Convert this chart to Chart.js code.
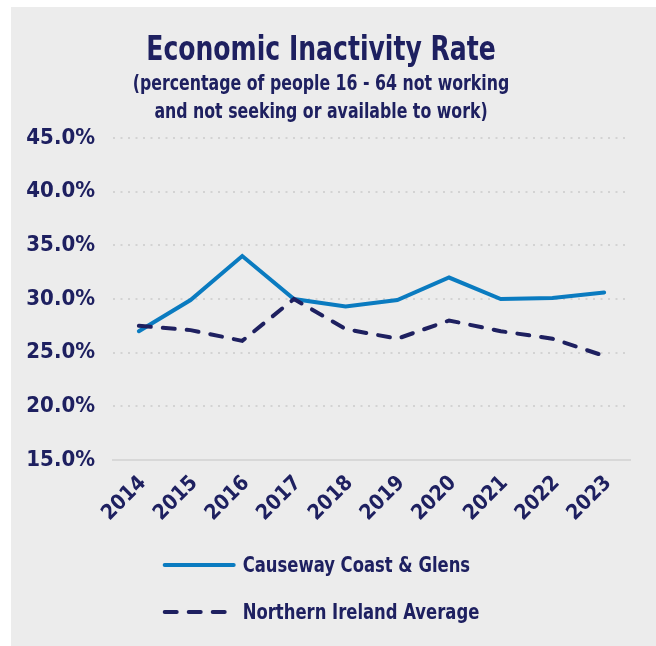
<!DOCTYPE html>
<html>
<head>
<meta charset="utf-8">
<script src="https://cdn.jsdelivr.net/npm/chart.js@4"></script>
<style>
  html, body { margin: 0; padding: 0; background: #ffffff; }
  #panel { position: absolute; left: 11px; top: 7px; width: 645px; height: 639px; background: #ececec; }
  canvas { display: block; }
</style>
</head>
<body>
<div id="panel"><canvas id="chart" width="645" height="639"></canvas></div>
<script>
// Economic inactivity, people aged 16-64 (%)
const years = ['2014', '2015', '2016', '2017', '2018', '2019', '2020', '2021', '2022', '2023'];
const causewayCoastGlens = [27.0, 29.9, 34.0, 30.0, 29.3, 29.9, 32.0, 30.0, 30.1, 30.6];
const northernIrelandAvg = [27.5, 27.1, 26.1, 30.0, 27.2, 26.3, 28.0, 27.0, 26.3, 24.7];
const yTicks = [15, 20, 25, 30, 35, 40, 45];
const seriesNames = ['Causeway Coast & Glens', 'Northern Ireland Average'];
const titleText = 'Economic Inactivity Rate';
const subtitleLines = ['(percentage of people 16 - 64 not working', 'and not seeking or available to work)'];

const NAVY = '#1e2060';
const BLUE = '#0a7bc0';
const FONT = '"DejaVu Sans Condensed", "DejaVu Sans", sans-serif';

// Draws a line of text squeezed horizontally to mimic a narrow display face
function squeezedText(ctx, text, x, y, font, sx, align) {
  ctx.save();
  ctx.font = font;
  ctx.textAlign = align;
  ctx.translate(x, y);
  ctx.scale(sx, 1);
  ctx.fillText(text, 0, 0);
  ctx.restore();
}

// Heading block and a stacked legend drawn from the chart's own datasets
const headingAndLegend = {
  id: 'headingAndLegend',
  afterDraw(chart, args, opts) {
    const ctx = chart.ctx;
    const cx = opts.centerX;
    ctx.save();
    ctx.fillStyle = NAVY;
    ctx.textBaseline = 'alphabetic';
    squeezedText(ctx, opts.title, cx, 53, `bold 34px ${FONT}`, 0.82, 'center');
    opts.subtitle.forEach((line, i) => {
      squeezedText(ctx, line, cx, 83 + i * 28, `bold 21px ${FONT}`, 0.835, 'center');
    });

    // legend
    const sx = 0.83;
    const legendFont = `bold 22px ${FONT}`;
    ctx.font = legendFont;
    const sampleW = 73, gap = 7;
    const textW = Math.max(...chart.data.datasets.map(ds => ctx.measureText(ds.label).width * sx));
    const left = cx - (sampleW + gap + textW) / 2;
    chart.data.datasets.forEach((ds, i) => {
      const y = chart.chartArea.bottom + 105 + i * 47;
      ctx.save();
      ctx.strokeStyle = ds.borderColor;
      ctx.lineWidth = ds.borderWidth;
      ctx.lineCap = ds.borderCapStyle || 'butt';
      ctx.setLineDash(ds.borderDash || []);
      ctx.beginPath();
      ctx.moveTo(left + 2, y);
      ctx.lineTo(left + sampleW - 2, y);
      ctx.stroke();
      ctx.restore();
      ctx.fillStyle = NAVY;
      ctx.textBaseline = 'middle';
      squeezedText(ctx, ds.label, left + sampleW + gap, y + 1, legendFont, sx, 'left');
    });
    ctx.restore();
  }
};

new Chart(document.getElementById('chart'), {
  type: 'line',
  data: {
    labels: years,
    datasets: [
      {
        label: seriesNames[0],
        data: causewayCoastGlens,
        borderColor: BLUE,
        backgroundColor: BLUE,
        borderWidth: 4,
        borderCapStyle: 'round',
        pointRadius: 0,
        tension: 0,
        order: 1
      },
      {
        label: seriesNames[1],
        data: northernIrelandAvg,
        borderColor: NAVY,
        backgroundColor: NAVY,
        borderWidth: 4,
        borderDash: [12, 12],
        borderCapStyle: 'round',
        pointRadius: 0,
        tension: 0,
        order: 0
      }
    ]
  },
  plugins: [headingAndLegend],
  options: {
    responsive: false,
    animation: false,
    layout: { padding: { top: 131, left: 0, right: 26, bottom: 117 } },
    scales: {
      x: {
        offset: true,
        grid: { display: false, drawTicks: false },
        border: { display: true, color: '#d8d8d8', width: 2 },
        ticks: {
          color: NAVY,
          font: { family: FONT, size: 21, weight: 'bold' },
          minRotation: 45,
          maxRotation: 45,
          padding: 11,
          labelOffset: 4
        },
        afterFit: (scale) => { scale.height = 69; }
      },
      y: {
        min: 15,
        max: 45,
        afterBuildTicks: (scale) => { scale.ticks = yTicks.map(v => ({ value: v })); },
        grid: {
          drawTicks: false,
          lineWidth: 2,
          color: (ctx) => ctx.tick && ctx.tick.value === 15 ? 'rgba(0,0,0,0)' : '#d3d3d3'
        },
        border: { display: false, dash: [2, 5.5] },
        ticks: {
          color: NAVY,
          font: { family: FONT, size: 22, weight: 'bold' },
          padding: 18,
          callback: (v) => Number(v).toFixed(1) + '%'
        },
        afterFit: (scale) => { scale.width = 102; }
      }
    },
    plugins: {
      title: { display: false },
      legend: { display: false },
      tooltip: { enabled: false },
      headingAndLegend: { centerX: 310, title: titleText, subtitle: subtitleLines }
    }
  }
});
</script>
</body>
</html>
